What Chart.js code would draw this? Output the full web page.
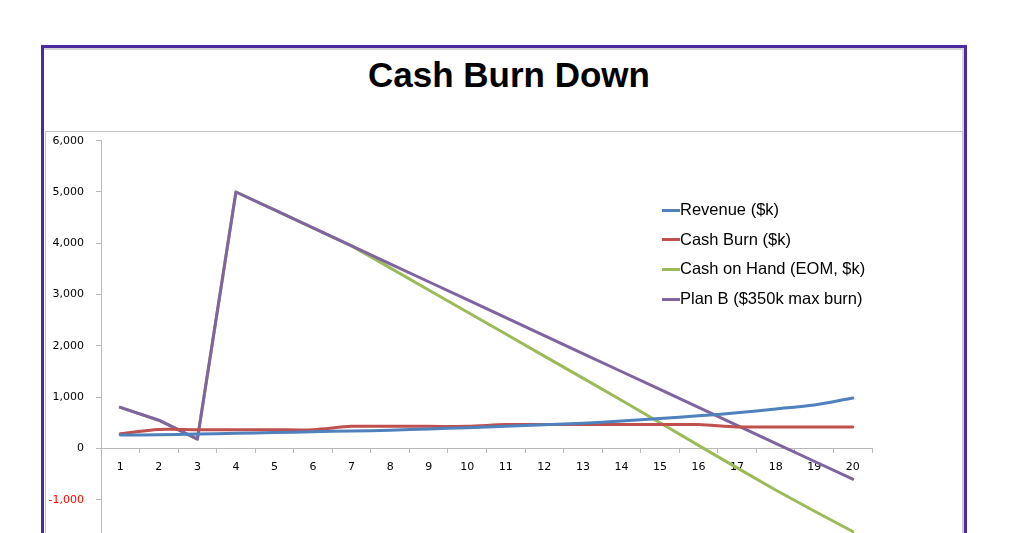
<!DOCTYPE html>
<html>
<head>
<meta charset="utf-8">
<script src="https://cdn.jsdelivr.net/npm/chart.js@4.4.1/dist/chart.umd.min.js"></script>
<style>
  html, body { margin: 0; padding: 0; background: #fff; }
  body { width: 1012px; height: 533px; overflow: hidden; position: relative; }
  #frame {
    position: absolute; left: 41px; top: 45px; width: 920px; height: 600px;
    border: 3px solid #4b2a9f;
    box-shadow: inset -2px 2px 0 #d6d6d6;
  }
  #title {
    position: absolute; left: 0; width: 1018px; top: 55px; text-align: center;
    font: bold 35px "Liberation Sans", Arial, sans-serif; color: #000;
  }
  #plotBox {
    position: absolute; left: 45px; top: 131px; width: 916px; height: 500px;
    border: 1px solid #c4c4c4;
  }
  #wrap { position: absolute; left: 46px; top: 132px; width: 916px; height: 430px; }
  #legend {
    position: absolute; left: 662px; top: 195px;
    font: 16.5px "Liberation Sans", Arial, sans-serif; color: #000;
  }
  #legend .row { display: flex; align-items: center; height: 29.6px; }
  #legend .sw { width: 18px; height: 3px; margin-top: 1px; }
</style>
</head>
<body>
<div id="frame"></div>
<div id="title">Cash Burn Down</div>
<div id="plotBox"></div>
<div id="wrap"><canvas id="myChart"></canvas></div>
<div id="legend"></div>
<script>
// 데이터
const months = ["1", "2", "3", "4", "5", "6", "7", "8", "9", "10",
  "11", "12", "13", "14", "15", "16", "17", "18", "19", "20"];
const revenue = [260, 265, 280, 295, 310, 325, 340, 355, 380, 405,
  430, 460, 490, 535, 585, 635, 695, 770, 845, 985];
const cashBurn = [285, 370, 365, 365, 365, 365, 430, 430, 430, 430,
  465, 465, 465, 465, 465, 465, 420, 420, 420, 420];
const cashOnHand = [800, 550, 180, 5000, 4650, 4300, 3950, 3520, 3090, 2660,
  2230, 1800, 1370, 940, 500, 60, -380, -810, -1220, -1620];
const planB = [800, 550, 180, 5000, 4650, 4300, 3950, 3600, 3250, 2900,
  2550, 2200, 1850, 1500, 1150, 800, 450, 100, -250, -600];
const seriesNames = ["Revenue ($k)", "Cash Burn ($k)", "Cash on Hand (EOM, $k)", "Plan B ($350k max burn)"];
const seriesColors = ["#4f81bd", "#c0504d", "#9bbb59", "#8064a2"];

// 범례 (HTML)
const legendEl = document.getElementById("legend");
seriesNames.forEach((name, i) => {
  const row = document.createElement("div");
  row.className = "row";
  row.innerHTML = '<span class="sw" style="background:' + seriesColors[i] + '"></span><span>' + name + "</span>";
  legendEl.appendChild(row);
});

Chart.defaults.font.family = "'DejaVu Sans', sans-serif";
Chart.defaults.font.size = 11;
Chart.defaults.color = "#000";

const cht = document.getElementById("myChart");
const chart = new Chart(cht, {
  type: "line",
  data: {
    labels: months,
    datasets: [
      { label: seriesNames[0], data: revenue, borderColor: seriesColors[0], tension: 0.3, order: 1 },
      { label: seriesNames[1], data: cashBurn, borderColor: seriesColors[1], tension: 0.3, order: 2 },
      { label: seriesNames[2], data: cashOnHand, borderColor: seriesColors[2], tension: 0, order: 4 },
      { label: seriesNames[3], data: planB, borderColor: seriesColors[3], tension: 0, order: 3 },
    ],
  },
  options: {
    responsive: true,
    maintainAspectRatio: false,
    animation: false,
    elements: {
      point: { radius: 0 },
      line: { borderWidth: 3, borderCapStyle: "round", borderJoinStyle: "round" },
    },
    layout: { padding: { top: 8.7, right: 90, bottom: 11, left: 0 } },
    scales: {
      x: {
        position: { y: 0 }, // 0에서 교차
        offset: true,
        grid: {
          offset: true,
          drawOnChartArea: false,
          drawTicks: true,
          tickLength: 4,
          color: "#b8b8b8",
        },
        border: { display: true, color: "#b8b8b8" },
        ticks: { padding: 8, maxRotation: 0, autoSkip: false },
      },
      y: {
        min: -2000,
        max: 6000,
        afterFit: (scale) => {
          scale.width = 55;
          scale.paddingTop = 0;
          scale.paddingBottom = 0;
        },
        grid: {
          drawOnChartArea: false,
          drawTicks: true,
          tickLength: 5,
          color: "#b8b8b8",
        },
        border: { display: true, color: "#b8b8b8" },
        ticks: {
          stepSize: 1000,
          padding: 12,
          color: (ctx) => (ctx.tick && ctx.tick.value < 0 ? "#ff0000" : "#000"),
          callback: (v) => v.toLocaleString("en-US"),
        },
      },
    },
    plugins: {
      legend: { display: false },
      tooltip: { enabled: false },
    },
  },
});
</script>
</body>
</html>
